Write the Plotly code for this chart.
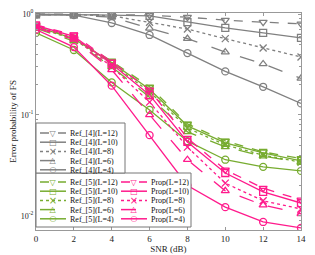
import plotly.graph_objects as go

snr = [0, 2, 4, 6, 8, 10, 12, 14]
L_values = [12, 10, 8, 6, 4]

ref4 = {
    12: [1.0, 0.995, 0.985, 0.975, 0.93, 0.87, 0.83, 0.80],
    10: [0.995, 0.99, 0.975, 0.96, 0.83, 0.73, 0.65, 0.58],
    8: [0.99, 0.985, 0.96, 0.83, 0.71, 0.57, 0.46, 0.375],
    6: [0.985, 0.98, 0.93, 0.72, 0.57, 0.42, 0.32, 0.23],
    4: [0.98, 0.975, 0.815, 0.62, 0.41, 0.27, 0.19, 0.13],
}
ref5 = {
    12: [0.76, 0.58, 0.34, 0.19, 0.0815, 0.0552, 0.043, 0.037],
    10: [0.75, 0.57, 0.33, 0.18, 0.078, 0.0528, 0.042, 0.035],
    8: [0.74, 0.56, 0.32, 0.17, 0.074, 0.0505, 0.040, 0.034],
    6: [0.72, 0.54, 0.30, 0.15, 0.068, 0.0482, 0.039, 0.034],
    4: [0.65, 0.44, 0.21, 0.112, 0.055, 0.036, 0.0306, 0.0279],
}
prop = {
    12: [0.78, 0.62, 0.335, 0.177, 0.059, 0.0286, 0.0188, 0.0144],
    10: [0.77, 0.60, 0.32, 0.158, 0.054, 0.0266, 0.0173, 0.0134],
    8: [0.75, 0.58, 0.30, 0.134, 0.048, 0.0211, 0.0141, 0.0117],
    6: [0.73, 0.56, 0.28, 0.100, 0.036, 0.0177, 0.0128, 0.0105],
    4: [0.70, 0.47, 0.195, 0.063, 0.020, 0.0122, 0.0087, 0.0076],
}

x_ticks = [0, 2, 4, 6, 8, 10, 12, 14]
y_tickvals = [0.01, 0.1, 1]
y_ticktext = ["10<sup>-2</sup>", "10<sup>-1</sup>", "10<sup>0</sup>"]

GRAY = "#808080"
GREEN = "#77ac30"
PINK = "#ff1a8c"

style = {
    12: dict(dash="dash", symbol="triangle-down-open", glyph="\u25bd"),
    10: dict(dash="solid", symbol="square-open", glyph="\u25a1"),
    8: dict(dash="dot", symbol="x-thin-open", glyph="\u00d7"),
    6: dict(dash="longdash", symbol="triangle-up-open", glyph="\u25b3"),
    4: dict(dash="solid", symbol="circle-open", glyph="\u25cb"),
}

fig = go.Figure()
groups = [("Ref_[4]", ref4, GRAY), ("Ref_[5]", ref5, GREEN), ("Prop", prop, PINK)]
for name, data, color in groups:
    for L in L_values:
        st = style[L]
        fig.add_trace(go.Scatter(
            x=snr, y=data[L], mode="lines+markers",
            name=f"{name}(L={L})", showlegend=False,
            line=dict(color=color, width=1.3, dash=st["dash"]),
            marker=dict(symbol=st["symbol"], size=7, color=color,
                        line=dict(color=color, width=1.3)),
        ))

# plot area geometry (pixels)
W, H = 315, 255
ML, MR, MT, MB = 36, 14, 13, 25
PW, PH = W - ML - MR, H - MT - MB


def px(x):
    return (x - ML) / PW


def py(y):
    return (H - MB - y) / PH


shapes = []
annotations = []

# legend boxes
shapes.append(dict(type="rect", xref="paper", yref="paper",
                   x0=px(36), x1=px(191), y0=py(227), y1=py(173),
                   line=dict(color="#777", width=1), fillcolor="white", layer="above"))
shapes.append(dict(type="rect", xref="paper", yref="paper",
                   x0=px(36), x1=px(125), y0=py(173), y1=py(123),
                   line=dict(color="#777", width=1), fillcolor="white", layer="above"))

legend_cols = [
    ("Ref_[4]", GRAY, 40, 133),
    ("Ref_[5]", GREEN, 40, 182),
    ("Prop", PINK, 121, 182),
]
for name, color, x0, y0 in legend_cols:
    for i, L in enumerate(L_values):
        st = style[L]
        yy = y0 + i * 9.2
        shapes.append(dict(type="line", xref="paper", yref="paper",
                           x0=px(x0), x1=px(x0 + 26), y0=py(yy), y1=py(yy),
                           line=dict(color=color, width=1.5, dash=st["dash"]),
                           layer="above"))
        annotations.append(dict(
            x=px(x0 + 13), y=py(yy), xref="paper", yref="paper",
            text=st["glyph"], showarrow=False, xanchor="center", yanchor="middle",
            width=8, height=7, borderpad=0,
            font=dict(family="DejaVu Sans", size=8 if L != 8 else 10, color=color)))
        annotations.append(dict(
            x=px(x0 + 29), y=py(yy), xref="paper", yref="paper",
            text=f"{name}(L={L})", showarrow=False, xanchor="left", yanchor="middle",
            height=8, borderpad=0,
            font=dict(family="Liberation Serif", size=8, color="#111")))

minor_vals = [k * 10 ** e for e in (-3, -2, -1) for k in range(2, 10)]

fig.update_layout(
    width=W, height=H,
    margin=dict(l=ML, r=MR, t=MT, b=MB, autoexpand=False),
    paper_bgcolor="white", plot_bgcolor="white",
    font=dict(family="Liberation Serif", size=9, color="#222"),
    shapes=shapes, annotations=annotations,
    showlegend=False,
)
fig.update_xaxes(
    range=[0, 14], tickvals=x_ticks, ticks="inside", ticklen=3,
    showline=True, mirror="ticks", linecolor="#999", linewidth=1, tickcolor="#999",
    showgrid=False, zeroline=False, automargin=False,
    title=dict(text="SNR (dB)", standoff=0, font=dict(size=9)),
    tickfont=dict(size=9),
)
fig.update_yaxes(
    type="log", range=[-2.14, 0.01], tickvals=y_tickvals, ticktext=y_ticktext,
    ticks="inside", ticklen=3, showline=True, mirror="ticks",
    linecolor="#999", linewidth=1, tickcolor="#999", showgrid=False, zeroline=False,
    automargin=False,
    minor=dict(tickvals=minor_vals, ticks="inside", ticklen=2, tickcolor="#999", showgrid=False),
    title=dict(text="Error probability of FS", standoff=2, font=dict(size=9)),
    tickfont=dict(size=8),
)

fig.write_html("out.html", config={"displayModeBar": False},
               post_script="document.body.style.margin='0';")
